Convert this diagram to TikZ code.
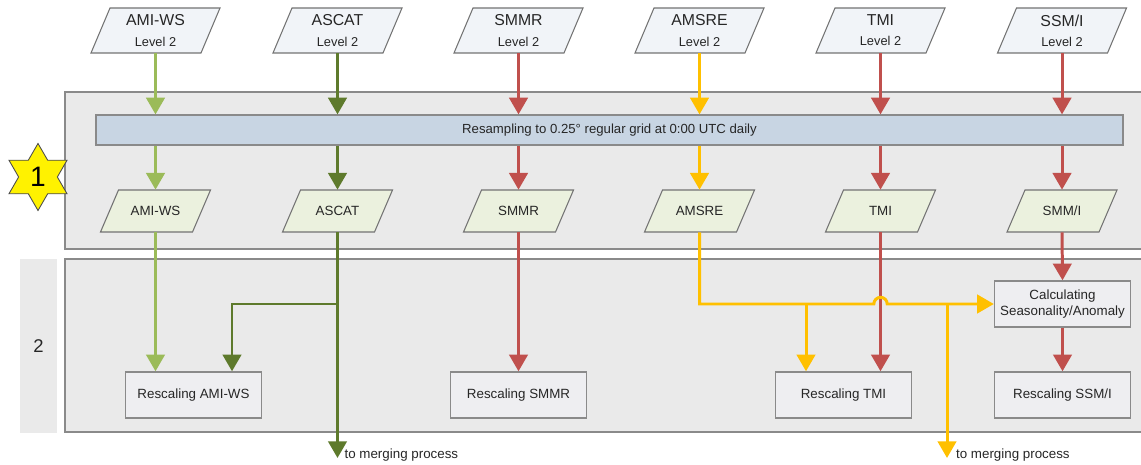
\documentclass[tikz,border=0pt]{standalone}
\usepackage{fontspec}
\setmainfont{Liberation Sans}
\usepackage{xcolor}
\usepackage{tikz}
\usetikzlibrary{shapes,arrows,positioning,calc,arrows.meta}

\definecolor{lgreen}{HTML}{9BBB59}
\definecolor{dgreen}{HTML}{5E7A2C}
\definecolor{redline}{HTML}{C0504D}
\definecolor{amber}{HTML}{FFC000}
\definecolor{topfill}{HTML}{F1F4F8}
\definecolor{midfill}{HTML}{EBF1DE}
\definecolor{barfill}{HTML}{C8D5E3}
\definecolor{panelfill}{HTML}{EAEAEA}
\definecolor{boxfill}{HTML}{EEEEF1}
\definecolor{edgegray}{HTML}{8A8A8A}
\definecolor{textgray}{HTML}{262626}

\tikzset{
    paraedge/.style={draw=black!55, line width=0.6pt},
    inpara/.style={rectangle, minimum width=1.82cm, minimum height=0.9cm, inner sep=0pt,
        align=center, text=textgray, font=\fontsize{9}{10}\selectfont},
    gridpara/.style={inpara, minimum width=1.46cm, minimum height=0.84cm,
        font=\fontsize{7.6}{9}\selectfont},
    procbox/.style={rectangle, draw=edgegray, line width=0.8pt, fill=boxfill,
        minimum width=2.72cm, minimum height=0.92cm, align=center, inner sep=1pt,
        text=textgray, font=\fontsize{7.6}{9.6}\selectfont},
    panel/.style={draw=edgegray, line width=0.7pt, fill=panelfill},
    flow/.style={line width=1.7pt, -{Triangle[width=10.5pt,length=9.5pt]}},
    lgarrow/.style={flow, draw=lgreen},
    dgarrow/.style={flow, draw=dgreen},
    rarrow/.style={flow, draw=redline},
    yarrow/.style={flow, draw=amber},
    mergetext/.style={anchor=west, inner sep=1pt, text=textgray, font=\fontsize{7.6}{9}\selectfont},
}

\begin{document}
\begin{tikzpicture}[x=0.02cm, y=-0.02cm]
    \useasboundingbox (0,0) rectangle (1141,465);

    \draw[panel] (65,92) rectangle (1146,249);
    \draw[panel] (65,259) rectangle (1146,432);
    \fill[panelfill] (20,259) rectangle (57,433);

    \node[star, star points=6, star point ratio=1.73, minimum size=1.34cm, inner sep=0pt,
        fill=yellow, draw=black!70, line width=0.5pt, font=\fontsize{16}{16}\selectfont] (stepone) at (38,177) {1};
    \node[text=textgray, font=\fontsize{10.5}{12}\selectfont] (steptwo) at (38.5,346) {2};

    \foreach \cx in {155.5,337.5,518.5,699.5,880.5,1062} {
        \filldraw[paraedge, fill=topfill] (\cx-64.5,53) -- (\cx+45.5,53) -- (\cx+64.5,8) -- (\cx-45.5,8) -- cycle;
        \filldraw[paraedge, fill=midfill] (\cx-55,232) -- (\cx+37,232) -- (\cx+55,190) -- (\cx-37,190) -- cycle;
    }

    \node[inpara] (ami1) at (155.5,30.5) {AMI-WS\\[1.5pt]{\fontsize{7.3}{9}\selectfont Level 2}};
    \node[inpara] (ascat1) at (337.5,30.5) {ASCAT\\[1.5pt]{\fontsize{7.3}{9}\selectfont Level 2}};
    \node[inpara] (smmr1) at (518.5,30.5) {SMMR\\[1.5pt]{\fontsize{7.3}{9}\selectfont Level 2}};
    \node[inpara] (amsre1) at (699.5,30.5) {AMSRE\\[1.5pt]{\fontsize{7.3}{9}\selectfont Level 2}};
    \node[inpara] (tmi1) at (880.5,30.5) {TMI\\[1.5pt]{\fontsize{7.3}{9}\selectfont Level 2}};
    \node[inpara] (ssmi1) at (1062,30.5) {SSM/I\\[1.5pt]{\fontsize{7.3}{9}\selectfont Level 2}};

    \node[rectangle, draw=edgegray, line width=0.7pt, fill=barfill, minimum width=20.54cm,
        minimum height=0.6cm, inner sep=0pt, text=textgray, font=\fontsize{7.5}{9}\selectfont]
        (bar) at (609.5,130) {Resampling to 0.25° regular grid at 0:00 UTC daily};

    \node[gridpara] (ami2) at (155.5,211) {AMI-WS};
    \node[gridpara] (ascat2) at (337.5,211) {ASCAT};
    \node[gridpara] (smmr2) at (518.5,211) {SMMR};
    \node[gridpara] (amsre2) at (699.5,211) {AMSRE};
    \node[gridpara] (tmi2) at (880.5,211) {TMI};
    \node[gridpara] (ssmi2) at (1062,211) {SMM/I};

    \node[procbox] (amiR) at (193.5,395) {Rescaling AMI-WS};
    \node[procbox] (smmrR) at (518.5,395) {Rescaling SMMR};
    \node[procbox] (tmiR) at (843.5,395) {Rescaling TMI};
    \node[procbox] (ssmiR) at (1062.5,395) {Rescaling SSM/I};
    \node[procbox] (calc) at (1062.5,304) {Calculating\\Seasonality/Anomaly};

    \coordinate (gfork) at (337.5,304);
    \coordinate (yfork1) at (806,304);
    \coordinate (yfork2) at (947,304);
    \coordinate (mergeA) at (337.5,458);
    \coordinate (mergeB) at (947,458);

    \draw[lgarrow] (ami1.south) -- (ami1.south |- bar.north);
    \draw[dgarrow] (ascat1.south) -- (ascat1.south |- bar.north);
    \draw[rarrow] (smmr1.south) -- (smmr1.south |- bar.north);
    \draw[yarrow] (amsre1.south) -- (amsre1.south |- bar.north);
    \draw[rarrow] (tmi1.south) -- (tmi1.south |- bar.north);
    \draw[rarrow] (ssmi1.south) -- (ssmi1.south |- bar.north);

    \draw[lgarrow] (bar.south -| ami2.north) -- (ami2.north);
    \draw[dgarrow] (bar.south -| ascat2.north) -- (ascat2.north);
    \draw[rarrow] (bar.south -| smmr2.north) -- (smmr2.north);
    \draw[yarrow] (bar.south -| amsre2.north) -- (amsre2.north);
    \draw[rarrow] (bar.south -| tmi2.north) -- (tmi2.north);
    \draw[rarrow] (bar.south -| ssmi2.north) -- (ssmi2.north);

    \draw[lgarrow] (ami2.south) -- (ami2.south |- amiR.north);
    \draw[dgarrow] (ascat2.south) -- (mergeA);
    \draw[dgarrow] (gfork) -| ($(amiR.north)+(38.5,0)$);
    \draw[rarrow] (smmr2.south) -- (smmrR.north);
    \draw[rarrow] (tmi2.south) -- (tmi2.south |- tmiR.north);
    \draw[yarrow] (amsre2.south) |- ($(tmi2.south |- calc.west)+(-3.8pt,0pt)$)
        arc[start angle=180, end angle=0, radius=3.8pt] -- (calc.west);
    \draw[yarrow] (yfork1) -- (yfork1 |- tmiR.north);
    \draw[yarrow] (yfork2) -- (mergeB);
    \draw[rarrow] (ssmi2.south) -- (calc.north);
    \draw[rarrow] (calc.south) -- (ssmiR.north);

    \node[mergetext] (mergeAtext) at ($(mergeA)+(5,-3)$) {to merging process};
    \node[mergetext] (mergeBtext) at ($(mergeB)+(7,-3)$) {to merging process};
\end{tikzpicture}
\end{document}
